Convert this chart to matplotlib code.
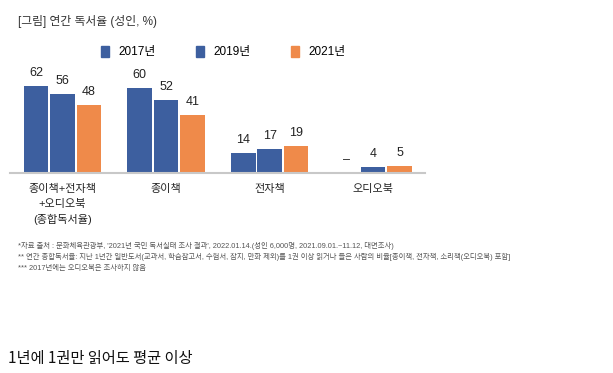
import matplotlib.pyplot as plt
import matplotlib.patches as mpatches
import numpy as np

plt.rcParams['font.family'] = ['Liberation Sans', 'Noto Sans CJK KR', 'DejaVu Sans']

categories = ['종이책+전자책\n+오디오북\n(종합독서율)', '종이책', '전자책', '오디오북']
years = ['2017년', '2019년', '2021년']
v2017 = [62, 60, 14, 0]
v2019 = [56, 52, 17, 4]
v2021 = [48, 41, 19, 5]
labels2017 = ['62', '60', '14', '–']

blue = '#3d5f9f'
orange = '#ef8a4a'
colors = [blue, blue, orange]

fig = plt.figure(figsize=(6.13, 3.73), dpi=100)
W, H = 613, 373
# axes: x 10..425 px, y 70..173 px from top
ax = fig.add_axes([10 / W, 1 - 173 / H, 415 / W, 103 / H])

x = np.arange(len(categories))
bw = 0.237
step = 0.254
series = [v2017, v2019, v2021]
for i, vals in enumerate(series):
    xs = x + (i - 1) * step
    bars = ax.bar(xs, vals, width=bw, color=colors[i], edgecolor='none')
    labs = labels2017 if i == 0 else [str(v) for v in vals]
    for b, lab in zip(bars, labs):
        ax.annotate(lab, (b.get_x() + b.get_width() / 2, b.get_height()),
                    xytext=(0, 5), textcoords='offset points',
                    ha='center', va='bottom', fontsize=9, color='#222222')

ax.set_xlim(-0.507, 3.5)
ax.set_ylim(0, 73)
for s in ['top', 'right', 'left']:
    ax.spines[s].set_visible(False)
ax.spines['bottom'].set_color('#c8c8c8')
ax.spines['bottom'].set_linewidth(1.5)
ax.set_yticks([])
ax.set_xticks(x)
ax.set_xticklabels(categories, fontsize=8, color='#222222', linespacing=1.55)
ax.tick_params(axis='x', length=0, pad=8)

fig.text(18 / W, 1 - 22 / H, '[그림] 연간 독서율 (성인, %)', fontsize=8.5,
         color='#333333', va='center')

handles = [mpatches.Patch(color=c) for c in colors]
fig.legend(handles, years, ncol=3, loc='center left',
           bbox_to_anchor=(90 / W, 1 - 52 / H), frameon=False, fontsize=8.5,
           handlelength=0.7, handleheight=1.1, handletextpad=0.8,
           columnspacing=3.4)

notes = [
    '*자료 출처 : 문화체육관광부, \'2021년 국민 독서실태 조사 결과\', 2022.01.14.(성인 6,000명, 2021.09.01.~11.12, 대면조사)',
    '** 연간 종합독서율: 지난 1년간 일반도서(교과서, 학습참고서, 수험서, 잡지, 만화 제외)를 1권 이상 읽거나 들은 사람의 비율[종이책, 전자책, 소리책(오디오북) 포함]',
    '*** 2017년에는 오디오북은 조사하지 않음',
]
for k, t in enumerate(notes):
    fig.text(18 / W, 1 - (246 + 11 * k) / H, t, fontsize=5.3, color='#555555',
             va='center')

fig.text(8 / W, 1 - 358 / H, '1년에 1권만 읽어도 평균 이상', fontsize=11,
         color='#111111', va='center', family=['Noto Sans CJK KR'])

fig.savefig('out.png', dpi=100)
